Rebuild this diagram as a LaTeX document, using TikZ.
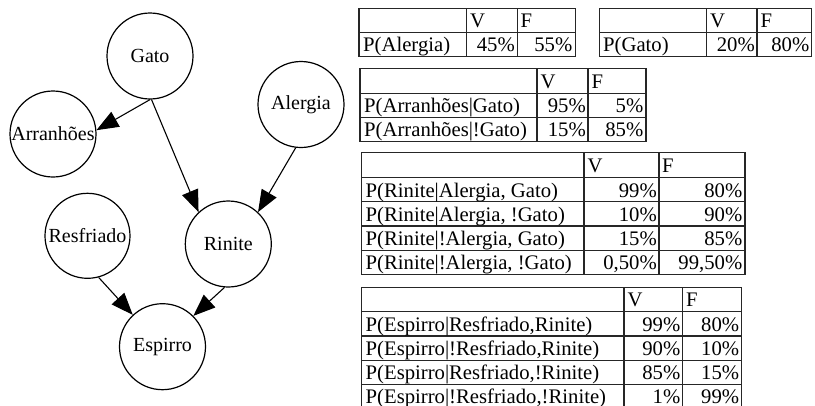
\documentclass[tikz,border=0pt]{standalone}
\usepackage{fontspec}
\setmainfont{Liberation Serif}
\usetikzlibrary{arrows.meta}
\tikzset{
  bnode/.style={circle,draw,line width=1.2pt,minimum size=86pt,inner sep=0pt,font=\fontsize{20}{22}\selectfont},
  edge/.style={line width=1.1pt,-{Triangle[length=22pt,width=17pt]}},
  grid/.style={line width=1.4pt,draw=black!85},
  tl/.style={anchor=base west,inner sep=0pt,font=\fontsize{20.7}{22}\selectfont},
  tr/.style={anchor=base east,inner sep=0pt,font=\fontsize{20.7}{22}\selectfont}
}
\begin{document}
\begin{tikzpicture}[x=1pt,y=-1pt]
\useasboundingbox (0,0) rectangle (815,405);
\clip (0,0) rectangle (815,405);
% nodes
\node[bnode] (gato) at (150,56) {Gato};
\node[bnode] (arr) at (53,134) {Arranhões};
\node[bnode] (ale) at (301,104.5) {Alergia};
\node[bnode,minimum size=85pt] (res) at (87.5,235.8) {Resfriado};
\node[bnode] (rin) at (228.3,244) {Rinite};
\node[bnode] (esp) at (162.5,346.7) {Espirro};
% edges
\draw[edge] (gato.-90) -- (arr.5);
\draw[edge] (gato.-88) -- (rin.133);
\draw[edge] (ale.-97) -- (rin.47);
\draw[edge] (res.-75) -- (esp.133);
\draw[edge] (rin.-95) -- (esp.45);
% table 1
\draw[grid] (359,8.3) rectangle (575.3,56.7);
\draw[grid] (359,32.3) -- (575.3,32.3);
\draw[grid] (466.7,8.3) -- (466.7,56.7) (517.3,8.3) -- (517.3,56.7);
\node[tl] (t1v) at (470,27) {V};
\node[tl] (t1f) at (520.5,27) {F};
\node[tl] (t1a) at (363,51.5) {P(Alergia)};
\node[tr] (t1b) at (515,51.5) {45\%};
\node[tr] (t1c) at (572.5,51.5) {55\%};
% table 2
\draw[grid] (599.3,8.3) rectangle (811.7,56.7);
\draw[grid] (599.3,32.3) -- (811.7,32.3);
\draw[grid] (706.3,8.3) -- (706.3,56.7) (757,8.3) -- (757,56.7);
\node[tl] (t2v) at (710,27) {V};
\node[tl] (t2f) at (760.5,27) {F};
\node[tl] (t2a) at (603,51.5) {P(Gato)};
\node[tr] (t2b) at (755,51.5) {20\%};
\node[tr] (t2c) at (809.5,51.5) {80\%};
% table 3
\draw[grid] (360,68.3) rectangle (646,141.7);
\draw[grid] (360,93.3) -- (646,93.3) (360,117.7) -- (646,117.7);
\draw[grid] (537,68.3) -- (537,141.7) (588,68.3) -- (588,141.7);
\node[tl] (t3v) at (540.5,88) {V};
\node[tl] (t3f) at (591.5,88) {F};
\node[tl] (t3a) at (364,112.5) {P(Arranhões|Gato)};
\node[tr] (t3b) at (586,112.5) {95\%};
\node[tr] (t3c) at (643.5,112.5) {5\%};
\node[tl] (t3d) at (364,136.7) {P(Arranhões|!Gato)};
\node[tr] (t3e) at (586,136.7) {15\%};
\node[tr] (t3g) at (643.5,136.7) {85\%};
% table 4
\draw[grid] (361.7,152.3) rectangle (745,274.3);
\draw[grid] (361.7,177.3) -- (745,177.3) (361.7,201.7) -- (745,201.7)
  (361.7,226) -- (745,226) (361.7,250.2) -- (745,250.2);
\draw[grid] (584,152.3) -- (584,274.3) (659,152.3) -- (659,274.3);
\node[tl] (t4v) at (587.5,172.3) {V};
\node[tl] (t4f) at (662,172.3) {F};
\node[tl] (t4a) at (365.5,197) {P(Rinite|Alergia, Gato)};
\node[tr] (t4b) at (657,197) {99\%};
\node[tr] (t4c) at (742.5,197) {80\%};
\node[tl] (t4d) at (365.5,221.2) {P(Rinite|Alergia, !Gato)};
\node[tr] (t4e) at (657,221.2) {10\%};
\node[tr] (t4g) at (742.5,221.2) {90\%};
\node[tl] (t4h) at (365.5,245.4) {P(Rinite|!Alergia, Gato)};
\node[tr] (t4i) at (657,245.4) {15\%};
\node[tr] (t4j) at (742.5,245.4) {85\%};
\node[tl] (t4k) at (365.5,269.6) {P(Rinite|!Alergia, !Gato)};
\node[tr] (t4l) at (657,269.6) {0,50\%};
\node[tr] (t4m) at (742.5,269.6) {99,50\%};
% table 5
\draw[grid] (361.7,287.3) rectangle (741.7,408.5);
\draw[grid] (361.7,311.7) -- (741.7,311.7) (361.7,336) -- (741.7,336)
  (361.7,360.2) -- (741.7,360.2) (361.7,384.4) -- (741.7,384.4);
\draw[grid] (624,287.3) -- (624,408.5) (682.7,287.3) -- (682.7,408.5);
\node[tl] (t5v) at (627.5,306.7) {V};
\node[tl] (t5f) at (686,306.7) {F};
\node[tl] (t5a) at (365.5,331) {P(Espirro|Resfriado,Rinite)};
\node[tr] (t5b) at (680.5,331) {99\%};
\node[tr] (t5c) at (739.3,331) {80\%};
\node[tl] (t5d) at (365.5,355.2) {P(Espirro|!Resfriado,Rinite)};
\node[tr] (t5e) at (680.5,355.2) {90\%};
\node[tr] (t5g) at (739.3,355.2) {10\%};
\node[tl] (t5h) at (365.5,379.4) {P(Espirro|Resfriado,!Rinite)};
\node[tr] (t5i) at (680.5,379.4) {85\%};
\node[tr] (t5j) at (739.3,379.4) {15\%};
\node[tl] (t5k) at (365.5,403.6) {P(Espirro|!Resfriado,!Rinite)};
\node[tr] (t5l) at (680.5,403.6) {1\%};
\node[tr] (t5m) at (739.3,403.6) {99\%};
\end{tikzpicture}
\end{document}
